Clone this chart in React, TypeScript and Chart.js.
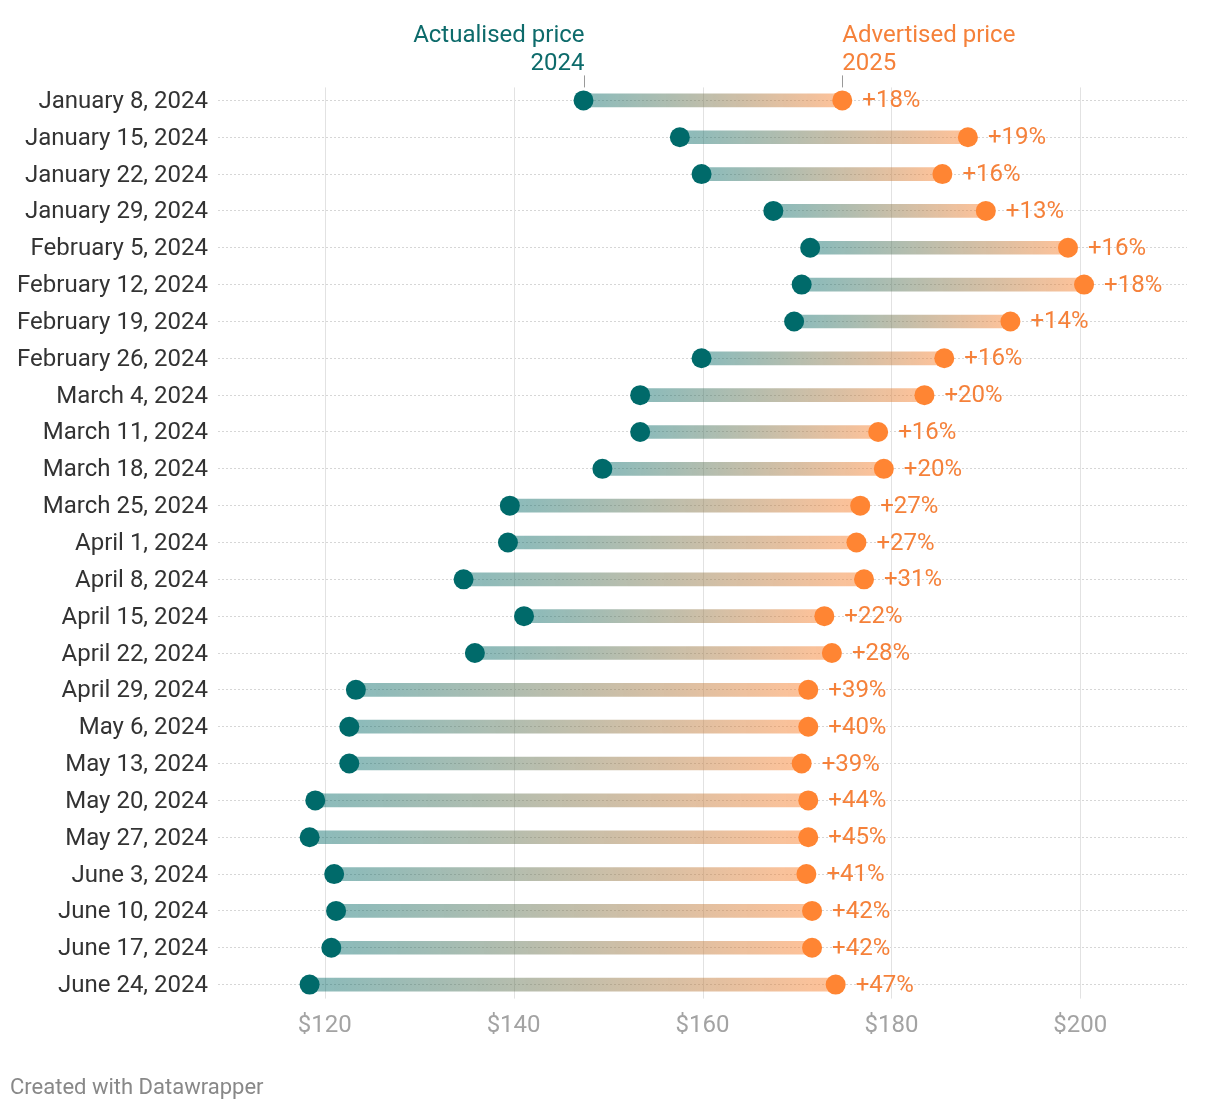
import React, { useEffect, useRef } from "react";
import { Chart, registerables } from "chart.js";

Chart.register(...registerables);

const dates = [
  "January 8, 2024", "January 15, 2024", "January 22, 2024", "January 29, 2024",
  "February 5, 2024", "February 12, 2024", "February 19, 2024", "February 26, 2024",
  "March 4, 2024", "March 11, 2024", "March 18, 2024", "March 25, 2024",
  "April 1, 2024", "April 8, 2024", "April 15, 2024", "April 22, 2024", "April 29, 2024",
  "May 6, 2024", "May 13, 2024", "May 20, 2024", "May 27, 2024",
  "June 3, 2024", "June 10, 2024", "June 17, 2024", "June 24, 2024",
];

const actualised2024 = [
  147.4, 157.6, 159.9, 167.5, 171.4, 170.5, 169.7, 159.9, 153.4, 153.4, 149.4, 139.6,
  139.4, 134.7, 141.1, 135.9, 123.3, 122.6, 122.6, 119.0, 118.4, 121.0, 121.2, 120.7, 118.4,
];

const advertised2025 = [
  174.8, 188.1, 185.4, 190.0, 198.7, 200.4, 192.6, 185.6, 183.5, 178.6, 179.2, 176.7,
  176.3, 177.1, 172.9, 173.7, 171.2, 171.2, 170.5, 171.2, 171.2, 171.0, 171.6, 171.6, 174.1,
];

const changePct = [
  18, 19, 16, 13, 16, 18, 14, 16, 20, 16, 20, 27, 27, 31, 22, 28, 39, 40, 39, 44, 45, 41, 42, 42, 47,
];

const xTicks = [120, 140, 160, 180, 200];

const TEAL = "#006a6a";
const ORANGE = "#ff8533";
const ORANGE_TEXT = "#f5813a";
const TEAL_TEXT = "#0d6b6b";
const FONT = "Roboto";

export default function App() {
  const ref = useRef<HTMLCanvasElement | null>(null);

  useEffect(() => {
    document.body.style.margin = "0";
    const canvas = ref.current;
    if (!canvas) return;

    const overlay = {
      id: "overlay",
      beforeDatasetsDraw(chart: any) {
        const { ctx } = chart;
        const xs = chart.scales.x;
        const ys = chart.scales.y;
        const top = ys.getPixelForValue(0) - 13;
        const bottom = ys.getPixelForValue(dates.length - 1) + 14;
        ctx.save();
        ctx.strokeStyle = "#e2e2e2";
        ctx.lineWidth = 1;
        xTicks.forEach((v) => {
          const x = Math.round(xs.getPixelForValue(v)) + 0.5;
          ctx.beginPath();
          ctx.moveTo(x, top);
          ctx.lineTo(x, bottom);
          ctx.stroke();
        });
        ctx.restore();
      },
      afterDatasetsDraw(chart: any) {
        const { ctx } = chart;
        const xs = chart.scales.x;
        const ys = chart.scales.y;
        ctx.save();
        ctx.font = `24px ${FONT}`;
        ctx.fillStyle = ORANGE_TEXT;
        ctx.textAlign = "left";
        ctx.textBaseline = "middle";
        advertised2025.forEach((v, i) => {
          ctx.fillText("+" + changePct[i] + "%", xs.getPixelForValue(v) + 20, ys.getPixelForValue(i) + 1);
        });

        const y0 = ys.getPixelForValue(0);
        const xa = xs.getPixelForValue(actualised2024[0]);
        const xb = xs.getPixelForValue(advertised2025[0]);
        ctx.textBaseline = "alphabetic";
        ctx.fillStyle = TEAL_TEXT;
        ctx.textAlign = "right";
        ctx.fillText("Actualised price", xa + 1, y0 - 58);
        ctx.fillText("2024", xa + 1, y0 - 30);
        ctx.fillStyle = ORANGE_TEXT;
        ctx.textAlign = "left";
        ctx.fillText("Advertised price", xb, y0 - 58);
        ctx.fillText("2025", xb, y0 - 30);

        ctx.strokeStyle = "#999999";
        ctx.lineWidth = 1;
        [xa, xb].forEach((x) => {
          const px = Math.round(x) + 0.5;
          ctx.beginPath();
          ctx.moveTo(px, y0 - 25);
          ctx.lineTo(px, y0 - 13);
          ctx.stroke();
        });

        ctx.font = `22px ${FONT}`;
        ctx.fillStyle = "#888888";
        ctx.textAlign = "left";
        ctx.textBaseline = "middle";
        ctx.fillText("Created with Datawrapper", 10, 1088);
        ctx.restore();
      },
    };

    const chart = new Chart(canvas, {
      type: "bar",
      data: {
        labels: dates,
        datasets: [
          {
            type: "line",
            data: actualised2024,
            showLine: false,
            pointRadius: 10,
            pointHoverRadius: 10,
            pointBorderWidth: 0,
            pointBackgroundColor: TEAL,
            borderColor: TEAL,
            order: 1,
          } as any,
          {
            type: "line",
            data: advertised2025,
            showLine: false,
            pointRadius: 10,
            pointHoverRadius: 10,
            pointBorderWidth: 0,
            pointBackgroundColor: ORANGE,
            borderColor: ORANGE,
            order: 1,
          } as any,
          {
            type: "bar",
            data: actualised2024.map((v, i) => [v, advertised2025[i]]),
            barThickness: 13,
            borderWidth: 0,
            borderSkipped: false,
            order: 3,
            backgroundColor: (c: any) => {
              const chart = c.chart;
              if (c.type !== "data" || !chart.chartArea) return "rgba(0,106,106,0.45)";
              const xs = chart.scales.x;
              const i = c.dataIndex;
              const x0 = xs.getPixelForValue(actualised2024[i]);
              const x1 = xs.getPixelForValue(advertised2025[i]);
              const g = chart.ctx.createLinearGradient(x0, 0, x1, 0);
              g.addColorStop(0, "rgba(0,106,106,0.46)");
              g.addColorStop(1, "rgba(255,133,51,0.5)");
              return g;
            },
          } as any,
        ],
      },
      options: {
        indexAxis: "y",
        responsive: false,
        animation: false,
        devicePixelRatio: 1,
        events: [],
        layout: { padding: { top: 82, right: 33, bottom: 67, left: 0 } },
        plugins: { legend: { display: false }, tooltip: { enabled: false } },
        scales: {
          x: {
            type: "linear",
            min: 108.7,
            max: 211.3,
            grid: { display: false, drawTicks: false },
            border: { display: false },
            afterBuildTicks: (s: any) => {
              s.ticks = xTicks.map((v) => ({ value: v }));
            },
            afterFit: (s: any) => {
              s.height = 40;
            },
            ticks: {
              padding: 9,
              color: "#a3a3a3",
              font: { family: FONT, size: 24 },
              callback: (v: any) => "$" + v,
              maxRotation: 0,
              autoSkip: false,
            },
          },
          y: {
            type: "category",
            offset: true,
            grid: { offset: false, drawTicks: false, color: "#d6d6d6", lineWidth: 1 },
            border: { display: false, dash: [2, 2] },
            afterFit: (s: any) => {
              s.width = 218;
            },
            ticks: {
              padding: 10,
              labelOffset: 1.5,
              color: "#333333",
              font: { family: FONT, size: 24 },
              autoSkip: false,
            },
          },
        },
      } as any,
      plugins: [overlay],
    });

    return () => chart.destroy();
  }, []);

  return (
    <div style={{ position: "absolute", left: 0, top: 0, width: 1220, height: 1110 }}>
      <canvas ref={ref} width={1220} height={1110} style={{ display: "block" }} />
    </div>
  );
}
